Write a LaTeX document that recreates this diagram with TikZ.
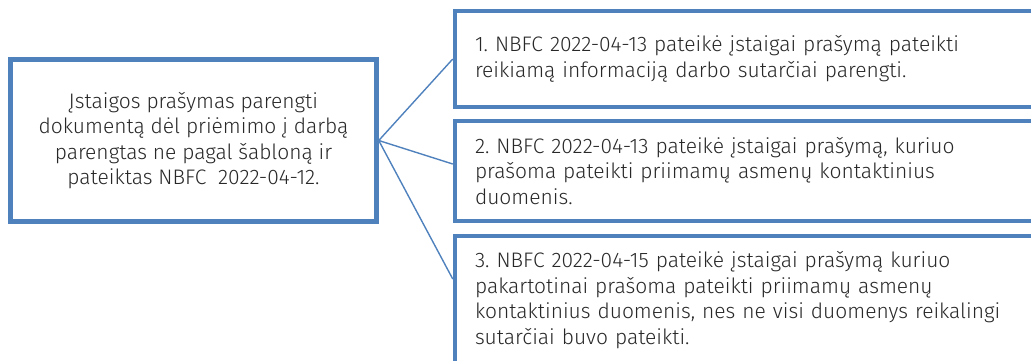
\documentclass[tikz,border=0pt]{standalone}
\usepackage{fontspec}
\setmainfont{Fira Sans}[UprightFont=* Light]
\definecolor{boxblue}{RGB}{79,129,189}
\definecolor{txtgray}{RGB}{40,40,40}
\begin{document}
\frenchspacing
\begin{tikzpicture}[x=1pt,y=-1pt,
  box/.style={draw=boxblue, line width=4.5pt, fill=white, rectangle, text=txtgray,
    font=\fontsize{21}{25.5}\selectfont\frenchspacing},
  rbox/.style={box, minimum width=595pt, text width=555pt, inner xsep=20pt, align=left},
  link/.style={draw=boxblue, line width=1.4pt}]
\clip (0,0) rectangle (1031,360);
\useasboundingbox (0,0) rectangle (1031,360);
\node[box, minimum width=366pt, minimum height=162pt, align=center] (src) at (193.5,140.5)
  {Įstaigos prašymas parengti\\ dokumentą dėl priėmimo į darbą\\ parengtas ne pagal šabloną ir\\ pateiktas NBFC\ \ 2022-04-12.};
\node[rbox, minimum height=96pt] (b1) at (752.5,59)
  {1. NBFC 2022-04-13 pateikė įstaigai prašymą pateikti\\ reikiamą informaciją darbo sutarčiai parengti.};
\node[rbox, minimum height=100pt] (b2) at (752.5,171)
  {2. NBFC 2022-04-13 pateikė įstaigai prašymą, kuriuo\\ prašoma pateikti priimamų asmenų kontaktinius\\ duomenis.};
\node[rbox, minimum height=128pt] (b3) at (752.5,300)
  {3. NBFC 2022-04-15 pateikė įstaigai prašymą kuriuo\\ pakartotinai prašoma pateikti priimamų asmenų\\ kontaktinius duomenis, nes ne visi duomenys reikalingi\\ sutarčiai buvo pateikti.};
\draw[link] (src.east) -- (b1.west);
\draw[link] (src.east) -- ([yshift=7pt]b2.west);
\draw[link] (src.east) -- ([yshift=21pt]b3.west);
\end{tikzpicture}
\end{document}
